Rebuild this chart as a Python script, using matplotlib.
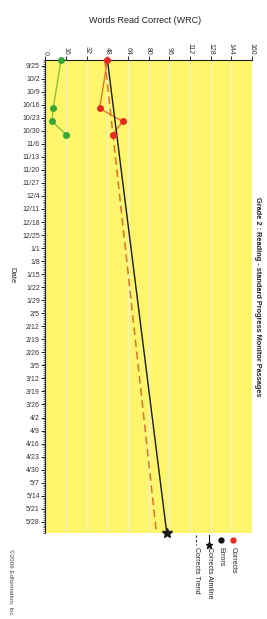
import numpy as np
import matplotlib
matplotlib.use("Agg")
import matplotlib.pyplot as plt
import matplotlib.dates as mdates
from matplotlib.lines import Line2D
from datetime import date, timedelta

plt.rcParams['font.family'] = ['Liberation Sans', 'DejaVu Sans']

# Observed scores
obs_dates = ['2006-09-22', '2006-10-18', '2006-10-25', '2006-11-01']
corrects = [48, 42, 60, 52]
errors = [12, 6, 5, 16]

# Aimline and trend endpoints
line_dates = ['2006-09-22', '2007-06-03']
aimline = [48, 94]
trend = [46, 86]

# Weekly date ticks
tick_start = date(2006, 9, 25)
n_weeks = 36
x_ticks = [0, 16, 32, 48, 64, 80, 96, 112, 128, 144, 160]

to_num = lambda ds: mdates.datestr2num(ds)

fig = plt.figure(figsize=(2.67, 6.19), dpi=100)
ax = fig.add_axes([0.1704, 0.139, 0.773, 0.764])
ax.set_facecolor('#fdf66c')

# grid
for v in x_ticks[1:-1]:
    ax.axvline(v, color='#f6f1c4', lw=1.0, zorder=1, snap=True)

ax.plot(trend, to_num(line_dates), color='#d8752a', lw=1.1, ls=(0, (5, 3)), zorder=3)
ax.plot(aimline, to_num(line_dates), color='#1a1a1a', lw=1.0, zorder=4)
ax.plot(aimline[-1], to_num(line_dates)[-1], marker='*', ms=7, color='#1a1a1a', zorder=5, clip_on=False)

ax.plot(errors, to_num(obs_dates), color='#86c43a', lw=1.0, zorder=3)
ax.plot(errors, to_num(obs_dates), 'o', ms=4, color='#36a838', zorder=5, clip_on=False)
ax.plot(corrects, to_num(obs_dates), color='#e8742a', lw=1.0, zorder=3)
ax.plot(corrects, to_num(obs_dates), 'o', ms=4, color='#e62a22', zorder=6, clip_on=False)

ax.set_xlim(0, 160)
ax.set_ylim(to_num(line_dates)[1], to_num(line_dates)[0])

ax.xaxis.tick_top()
ax.set_xticks(x_ticks)
ax.set_xticklabels([str(v) for v in x_ticks], rotation=270, fontsize=5, color='#333333')
ax.tick_params(axis='x', length=3, width=0.6, pad=1)

week_dates = [tick_start + timedelta(weeks=i) for i in range(n_weeks)]
ax.set_yticks(mdates.date2num(week_dates))
ax.set_yticklabels([f'{d.month}/{d.day}' for d in week_dates], fontsize=5, color='#333333')
ax.yaxis.set_minor_locator(mdates.DayLocator())
ax.tick_params(axis='y', which='major', length=3, width=0.6, pad=1)
ax.tick_params(axis='y', which='minor', length=1.5, width=0.4)

for s in ['right', 'bottom']:
    ax.spines[s].set_visible(False)
for s in ['left', 'top']:
    ax.spines[s].set_linewidth(0.8)
    ax.spines[s].set_color('#222222')

fig.text(0.545, 0.967, 'Words Read Correct (WRC)', ha='center', va='center', fontsize=6.5, color='#222222')
fig.text(0.045, 0.555, 'Date', rotation=270, ha='center', va='center', fontsize=5.5, color='#222222')
fig.text(0.966, 0.521, 'Grade 2 : Reading - standard Progress Monitor Passages', rotation=270,
         ha='center', va='center', fontsize=5.3, fontweight='bold', color='#222222')
fig.text(0.04, 0.06, '\u00a92006 Edformation, Inc', rotation=270, ha='center', va='center',
         fontsize=4.5, color='#444444')

# legend, drawn rotated
leg = [
    (0.873, 'Corrects', dict(marker='o', color='#e62a22', ms=3.5, ls='none')),
    (0.828, 'Errors', dict(marker='o', color='#111111', ms=3.5, ls='none')),
    (0.783, 'Corrects Aimline', dict(marker='*', color='#111111', ms=5, ls='-', lw=0.8)),
    (0.735, 'Corrects Trend', dict(color='#222222', ls=(0, (2, 2)), lw=0.8)),
]
y0 = 0.128
for xf, label, style in leg:
    if style.get('ls', '-') == 'none':
        fig.add_artist(Line2D([xf], [y0], transform=fig.transFigure, **style))
    else:
        fig.add_artist(Line2D([xf, xf], [y0 + 0.008, y0 - 0.008], transform=fig.transFigure,
                              markevery=[1] if style.get('marker') else None, **style))
    fig.text(xf, y0 - 0.012, label, rotation=270, ha='center', va='top', fontsize=5, color='#222222')

fig.savefig('out.png', dpi=100)
